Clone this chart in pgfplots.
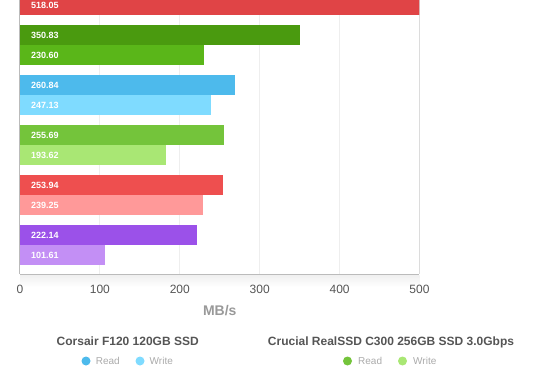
\documentclass[border=0pt]{standalone}
\usepackage{pgfplots}
\pgfplotsset{compat=1.18}
\usepackage{pgfplotstable}
\usepackage{fontspec}
\setmainfont{Liberation Sans}

\definecolor{cA}{HTML}{E04446}
\definecolor{cB1}{HTML}{4A9A0F}
\definecolor{cB2}{HTML}{5AB619}
\definecolor{cC1}{HTML}{4DBAEC}
\definecolor{cC2}{HTML}{7FDBFF}
\definecolor{cD1}{HTML}{74C43B}
\definecolor{cD2}{HTML}{A9E774}
\definecolor{cE1}{HTML}{EE4F4F}
\definecolor{cE2}{HTML}{FF9999}
\definecolor{cF1}{HTML}{9B51E9}
\definecolor{cF2}{HTML}{C38FF5}
\definecolor{axisgray}{HTML}{BBBBBB}
\definecolor{gridgray}{HTML}{EEEEEE}
\definecolor{tickgray}{HTML}{555555}
\definecolor{labgray}{HTML}{999999}
\definecolor{leggray}{HTML}{AAAAAA}

% bar centre (y) and printed value
\pgfplotstableread{
y label
269 518.05
239 350.83
219 230.60
189 260.84
169 247.13
139 255.69
119 193.62
89 253.94
69 239.25
39 222.14
19 101.61
}\labels

\begin{document}
\begin{tikzpicture}
\useasboundingbox (-20bp,-116bp) rectangle (540bp,274bp);
\shade[top color=black!6, bottom color=white] (0,-1bp) rectangle (399.5bp,-13bp);
\begin{axis}[
  scale only axis, width=399.5bp, height=274bp,
  xmin=0, xmax=500, ymin=0, ymax=274,
  axis x line*=bottom, axis y line*=left,
  axis line style={draw=axisgray, line width=1bp},
  ytick=\empty,
  xtick={0,100,200,300,400,500},
  xmajorgrids, grid style={draw=gridgray, line width=1bp},
  major tick length=0pt,
  /pgf/number format/assume math mode=true,
  tick label style={font=\fontsize{12bp}{14bp}\selectfont, text=tickgray},
  xticklabel style={anchor=base, yshift=-19.8bp},
  xlabel={MB/s},
  xlabel style={at={(axis description cs:0.5,0)}, anchor=base, yshift=-41.8bp,
    font=\fontsize{14bp}{16bp}\selectfont\bfseries, text=labgray},
  xbar, bar width=20, bar shift=0pt,
]
\addplot[xbar, draw=none, fill=cA]  coordinates {(518.05,269)};
\addplot[xbar, draw=none, fill=cB1] coordinates {(350.83,239)};
\addplot[xbar, draw=none, fill=cB2] coordinates {(230.60,219)};
\addplot[xbar, draw=none, fill=cC1] coordinates {(269.3,189)};
\addplot[xbar, draw=none, fill=cC2] coordinates {(239.3,169)};
\addplot[xbar, draw=none, fill=cD1] coordinates {(255.69,139)};
\addplot[xbar, draw=none, fill=cD2] coordinates {(183.1,119)};
\addplot[xbar, draw=none, fill=cE1] coordinates {(253.94,89)};
\addplot[xbar, draw=none, fill=cE2] coordinates {(229.1,69)};
\addplot[xbar, draw=none, fill=cF1] coordinates {(222.14,39)};
\addplot[xbar, draw=none, fill=cF2] coordinates {(106.7,19)};
\addplot[draw=none, mark=none, nodes near coords, point meta=explicit symbolic,
  every node near coord/.style={anchor=west, xshift=11bp, inner sep=0pt, text=white,
    font=\fontsize{9bp}{10bp}\selectfont\bfseries}]
  table[x expr=0, y=y, meta=label] {\labels};
\draw[axisgray, line width=1bp] (rel axis cs:1,0) -- (rel axis cs:1,1);
\end{axis}
% legend
\node[anchor=base, inner sep=0pt, text=tickgray, font=\fontsize{12bp}{14bp}\selectfont\bfseries]
  at (107.7bp,-71.3bp) {Corsair F120 120GB SSD};
\node[anchor=base, inner sep=0pt, text=tickgray, font=\fontsize{12bp}{14bp}\selectfont\bfseries]
  at (371bp,-71.3bp) {Crucial RealSSD C300 256GB SSD 3.0Gbps};
\fill[cC1] (66bp,-87bp) circle (4.5bp);
\node[anchor=base west, inner sep=0pt, text=leggray, font=\fontsize{10bp}{12bp}\selectfont] at (75.7bp,-90.6bp) {Read};
\fill[cC2] (120bp,-87bp) circle (4.5bp);
\node[anchor=base west, inner sep=0pt, text=leggray, font=\fontsize{10bp}{12bp}\selectfont] at (129.5bp,-90.6bp) {Write};
\fill[cD1] (327.5bp,-87bp) circle (4.5bp);
\node[anchor=base west, inner sep=0pt, text=leggray, font=\fontsize{10bp}{12bp}\selectfont] at (338bp,-90.6bp) {Read};
\fill[cD2] (382.5bp,-87bp) circle (4.5bp);
\node[anchor=base west, inner sep=0pt, text=leggray, font=\fontsize{10bp}{12bp}\selectfont] at (393bp,-90.6bp) {Write};
\end{tikzpicture}
\end{document}
